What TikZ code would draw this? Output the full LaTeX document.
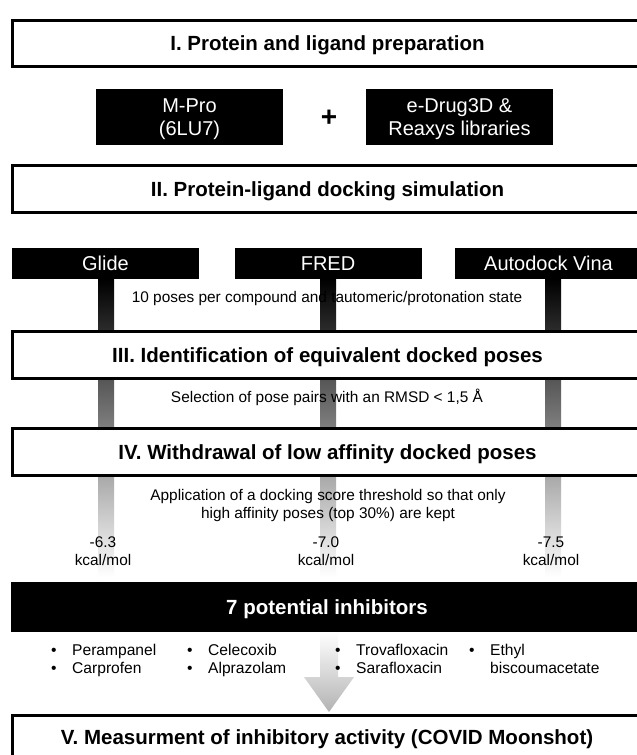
\documentclass[tikz,border=0pt]{standalone}
\usepackage{fontspec}
\setmainfont{Liberation Sans}
\newcommand\cstrut{\rule[-0.2em]{0pt}{1.12em}}
\begin{document}
\begin{tikzpicture}[x=1pt,y=-1pt,
  wbox/.style={draw=black, line width=3pt, fill=white, inner sep=0pt, minimum width=630pt, minimum height=47pt},
  bbox/.style={fill=black, draw=none, inner sep=0pt, text=white},
  ttl/.style={font=\bfseries\fontsize{20.5}{24}\selectfont},
  tool/.style={font=\fontsize{20}{23}\selectfont, align=center},
  note/.style={font=\fontsize{15.4}{18.5}\selectfont, align=center, inner sep=0pt},
  bar/.style={top color=black, bottom color=white, draw=none, minimum width=16pt, minimum height=298pt, inner sep=0pt},
  item/.style={font=\fontsize{15.6}{18.5}\selectfont, anchor=base west, inner sep=0pt}
]
\useasboundingbox (0,0) rectangle (637,755);
\clip (0,0) rectangle (637,755);
\fill[white] (0,0) rectangle (637,755);

% gradient bars behind the boxes
\node[bar] (barG) at (106,428) {};
\node[bar] (barF) at (328,428) {};
\node[bar] (barV) at (553,428) {};

% main stage boxes
\node[wbox, ttl, minimum height=46pt] (s1) at (327.5,43) {\cstrut I. Protein and ligand preparation};
\node[bbox, tool, minimum width=187pt, minimum height=56pt] (mpro) at (189.5,117) {\cstrut M-Pro\\\cstrut(6LU7)};
\node[font=\bfseries\fontsize{28}{30}\selectfont, inner sep=0pt] (plus) at (329,118) {+};
\node[bbox, tool, minimum width=187pt, minimum height=56pt] (lib) at (459.5,117) {\cstrut e-Drug3D \&\\\cstrut Reaxys libraries};
\node[wbox, ttl] (s2) at (327.5,189) {\cstrut II. Protein-ligand docking simulation};

\node[bbox, tool, minimum width=187pt, minimum height=31pt] (glide) at (105.5,263.5) {\cstrut Glide};
\node[bbox, tool, minimum width=187pt, minimum height=31pt] (fred) at (328,263.5) {\cstrut FRED};
\node[bbox, tool, minimum width=187pt, minimum height=31pt] (vina) at (548.5,263.5) {\cstrut Autodock Vina};

\node[note] (n1) at (327,297) {\cstrut 10 poses per compound and tautomeric/protonation state};
\node[wbox, ttl] (s3) at (327.5,355) {\cstrut III. Identification of equivalent docked poses};
\node[note] (n2) at (327,397) {\cstrut Selection of pose pairs with an RMSD < 1,5 Å};
\node[wbox, ttl] (s4) at (327.5,452) {\cstrut IV. Withdrawal of low affinity docked poses};
\node[note] (n3) at (328,504) {\cstrut Application of a docking score threshold so that only\\\cstrut high affinity poses (top 30\%) are kept};

\node[note] (k1) at (103,551) {\cstrut -6.3\\\cstrut kcal/mol};
\node[note] (k2) at (326,551) {\cstrut -7.0\\\cstrut kcal/mol};
\node[note] (k3) at (551,551) {\cstrut -7.5\\\cstrut kcal/mol};

\node[bbox, ttl, minimum width=632pt, minimum height=50pt] (blk) at (327,607) {\cstrut 7 potential inhibitors};

% arrow
\coordinate (aTop) at (329,632);
\coordinate (aTip) at (329,712);
\path[top color=white, middle color=black!42, bottom color=black!30]
  (320,632) -- (338,632) -- (338,677) -- (354,677) -- (aTip) -- (304,677) -- (320,677) -- cycle;

% inhibitor list
\node[item] (i1) at (51,655.5) {\makebox[21pt][l]{•}Perampanel};
\node[item] (i2) at (51,673) {\makebox[21pt][l]{•}Carprofen};
\node[item] (i3) at (187,655.5) {\makebox[21pt][l]{•}Celecoxib};
\node[item] (i4) at (187,673) {\makebox[21pt][l]{•}Alprazolam};
\node[item] (i5) at (335,655.5) {\makebox[21pt][l]{•}Trovafloxacin};
\node[item] (i6) at (335,673) {\makebox[21pt][l]{•}Sarafloxacin};
\node[item] (i7) at (469,655.5) {\makebox[21pt][l]{•}Ethyl};
\node[item] (i8) at (469,673) {\makebox[21pt][l]{}biscoumacetate};

\node[wbox, ttl, anchor=north, minimum height=50pt] (s5) at (327.5,713.5) {};
\node[ttl] (t5) at (327,737) {\cstrut V. Measurment of inhibitory activity (COVID Moonshot)};
\end{tikzpicture}
\end{document}
